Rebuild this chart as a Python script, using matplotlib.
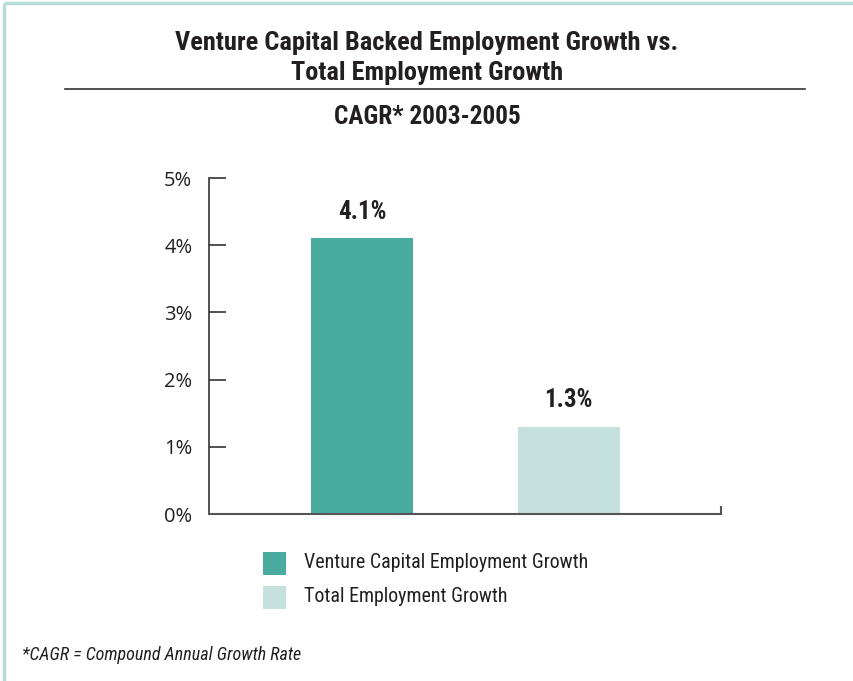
import matplotlib
matplotlib.use("Agg")
import matplotlib.pyplot as plt
from matplotlib.patches import Rectangle
from matplotlib.lines import Line2D

categories = ["Venture Capital Employment Growth", "Total Employment Growth"]
values = [4.1, 1.3]
value_labels = ["4.1%", "1.3%"]
colors = ["#4aaba1", "#c4e1dd"]
yticks = [0, 1, 2, 3, 4, 5]
ytick_labels = ["0%", "1%", "2%", "3%", "4%", "5%"]

COND = ["Roboto Condensed", "Roboto", "DejaVu Sans"]
TICKF = ["Open Sans", "DejaVu Sans"]

W, H = 854, 681
fig = plt.figure(figsize=(W / 100, H / 100), dpi=100)
fig.patch.set_facecolor("white")

def fx(x):
    return x / W

def fy(y):
    return 1 - y / H

# border (left and top only)
fig.add_artist(Line2D([fx(4), fx(4)], [fy(3), 0], color="#b5dcd8", lw=2.5,
                      solid_capstyle="butt", transform=fig.transFigure))
fig.add_artist(Line2D([fx(4), 1], [fy(3), fy(3)], color="#b5dcd8", lw=2.5,
                      solid_capstyle="butt", transform=fig.transFigure))

# titles
fig.text(0.5, fy(43), "Venture Capital Backed Employment Growth vs.", ha="center", va="center",
         fontsize=19, fontweight="bold", family=COND, color="#231f20")
fig.text(0.5, fy(73), "Total Employment Growth", ha="center", va="center",
         fontsize=19, fontweight="bold", family=COND, color="#231f20")
fig.add_artist(Line2D([fx(65), fx(805)], [fy(89), fy(89)], color="#333333", lw=1.2, transform=fig.transFigure))
fig.text(0.5, fy(117), "CAGR* 2003-2005", ha="center", va="center",
         fontsize=18.2, fontweight="bold", family=COND, color="#231f20")

# axes
ax = fig.add_axes([fx(209), fy(514), fx(721) - fx(209), (514 - 178) / H])
x = list(range(len(values)))
ax.bar(x, values, width=0.494, color=colors)
ax.set_xlim(-0.741, 1.738)
ax.set_ylim(0, 5)
for i, (v, lab) in enumerate(zip(values, value_labels)):
    ax.text(i, v + 0.22, lab, ha="center", va="bottom", fontsize=18, fontweight="bold",
            family=COND, color="#231f20")

ax.set_yticks(yticks)
ax.set_yticklabels(ytick_labels, family=TICKF, fontsize=14.5, color="#231f20")
ax.tick_params(axis="y", direction="in", length=12, width=1.2, color="#333333", pad=12)
ax.set_xticks([])
for s in ["top", "right"]:
    ax.spines[s].set_visible(False)
ax.spines["left"].set_color("#333333")
ax.spines["bottom"].set_color("#555555")
ax.spines["left"].set_linewidth(1.2)
ax.spines["bottom"].set_linewidth(1.5)
# small end tick at right of x axis
ax.plot([1.738, 1.738], [0, 0.1], color="#555555", lw=1.5, clip_on=False)
ax.set_facecolor("none")

# legend
for j, (lab, c) in enumerate(zip(categories, colors)):
    yc = 563 + j * 34
    fig.add_artist(Rectangle((fx(263), fy(yc + 11.5)), fx(286) - fx(263), 23 / H,
                             facecolor=c, edgecolor="none", transform=fig.transFigure))
    fig.text(fx(304), fy(yc - 1), lab, ha="left", va="center", fontsize=14.4,
             family=COND, color="#231f20")

fig.text(fx(22), fy(655), "*CAGR = Compound Annual Growth Rate", ha="left", va="center",
         fontsize=13, style="italic", family=COND, color="#231f20")

fig.savefig("out.png", dpi=100, facecolor="white")
